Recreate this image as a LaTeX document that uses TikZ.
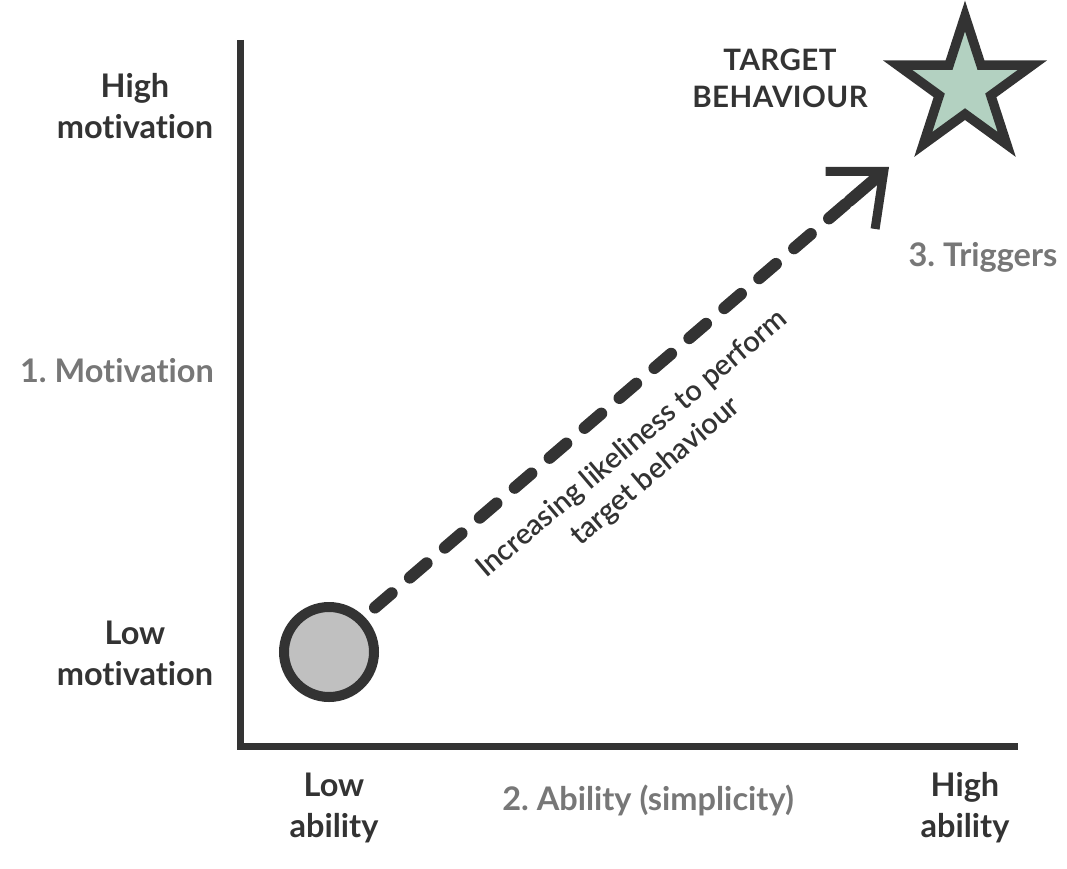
\documentclass[tikz,border=0pt]{standalone}
\usepackage{fontspec}
\setmainfont{Lato}[Ligatures=NoCommon]
\IfFontExistsTF{Lato Semibold}{\newfontfamily\semifont{Lato Semibold}[Ligatures=NoCommon]}{\newfontfamily\semifont{Lato}[UprightFont=*-Bold,Ligatures=NoCommon]}
\usetikzlibrary{arrows.meta,shapes.geometric,calc}
\definecolor{dark}{HTML}{333333}
\definecolor{midgray}{HTML}{777777}
\definecolor{dotgray}{HTML}{C0C0C0}
\definecolor{sage}{HTML}{B3D1C1}
\frenchspacing

\begin{document}
\begin{tikzpicture}[x=1pt,y=-1pt,
	lab/.style={text=dark,font=\fontsize{32.5}{41}\selectfont\bfseries,align=center,inner sep=0pt},
	ttl/.style={text=midgray,font=\fontsize{32.5}{41}\selectfont\bfseries,inner sep=0pt}]
			\useasboundingbox (0,0) rectangle (1067,869);
			% axes
			\draw[dark,line width=7pt] (240,40) -- (240,746) -- (1018,746);
			\node[lab] (hmot) at (135,106) {High\\motivation};
			\node[ttl] (mot) at (117,371) {1. Motivation};
			\node[lab] (lmot) at (135,653) {Low\\motivation};
			\node[lab] (labl) at (334,808) {Low\\ability};
			\node[ttl] (abl) at (648,800) {2. Ability (simplicity)};
			\node[lab] (habl) at (965,808) {High\\ability};
			% start and goal
			\node[circle,draw=dark,fill=dotgray,line width=10pt,minimum size=90pt,inner sep=0pt] (start) at (329,652) {};
			\node[star,star points=5,star point ratio=2.618,draw=dark,fill=sage,line width=9.5pt,minimum size=142pt,inner sep=0pt] (goal) at (965,87) {};
			\node[lab,font=\fontsize{29.5}{37}\selectfont\bfseries\addfontfeature{LetterSpace=1.5}] (target) at (780,78) {TARGET\\BEHAVIOUR};
			\node[ttl] (trig) at (983,257) {3. Triggers};
			% path to the goal
			\coordinate (tip) at (889,167);
			\coordinate (neck) at ($(tip)!52pt!(start.north east)$);
			\draw[dark,line width=12pt,line cap=round,dash pattern=on 22pt off 24pt,shorten <=14pt] (start.north east) -- (neck);
			\draw[dark,line width=12pt,line cap=round,-{Straight Barb[length=44pt,width=76pt,line width=9pt]}] (neck) -- (tip);
			\node[lab,font=\fontsize{29}{36}\semifont,rotate=40.3] (slogan) at (644,458) {Increasing likeliness to perform\\target behaviour};
\end{tikzpicture}
\end{document}
